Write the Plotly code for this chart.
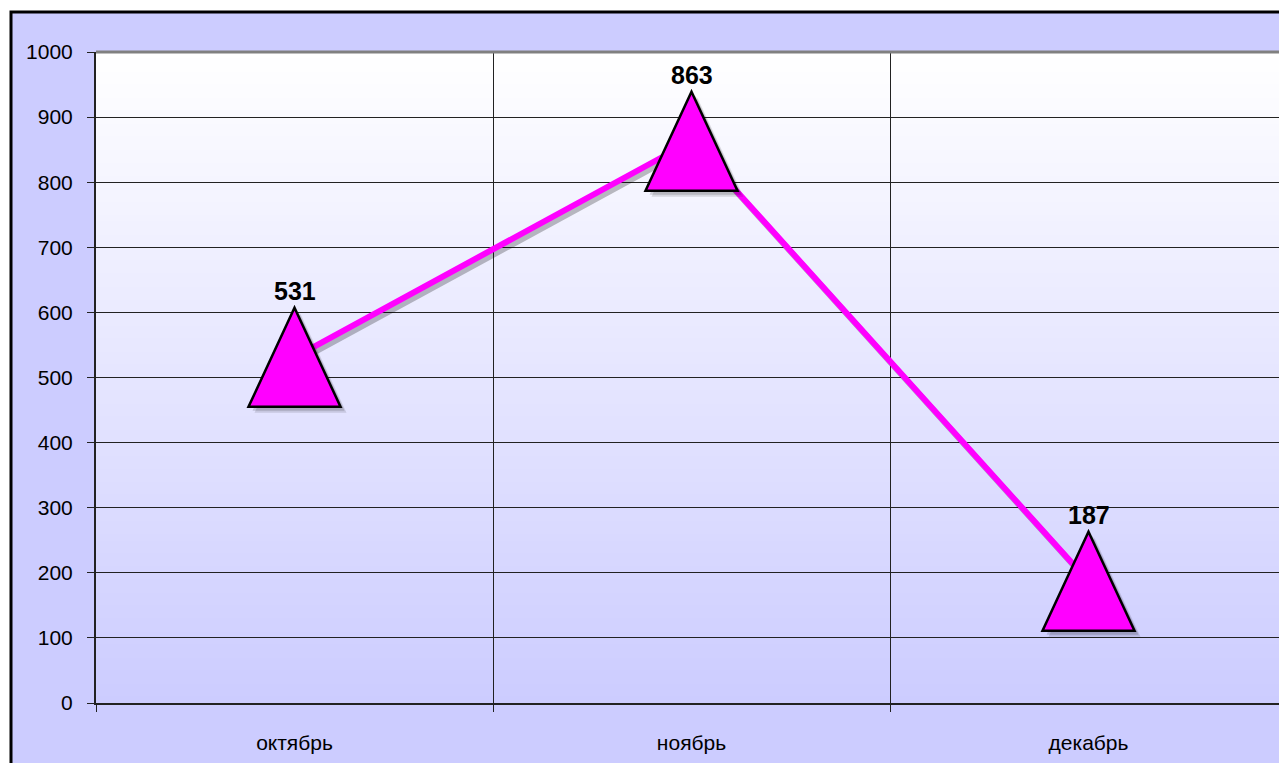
import plotly.graph_objects as go

months = ["октябрь", "ноябрь", "декабрь"]
values = [531, 863, 187]
y_ticks = list(range(0, 1001, 100))

W, H = 1287, 763
# the page has an 8px body margin, so the figure is shifted by 8px
ML, MR, MT, MB = 88, 8, 44, 68
plot_w = W - ML - MR
plot_h = H - MT - MB
y_max = 1000

font_main = "Arial, Liberation Sans, sans-serif"
lavender = "#CCCCFF"
magenta = "#FF00FF"

fig = go.Figure()

# invisible trace to set up the category axis
fig.add_trace(go.Scatter(x=months, y=values, mode="lines", line=dict(width=0),
                         opacity=0, hoverinfo="skip", showlegend=False))

# line shadow, drawn on a slightly shifted overlay axis pair
sx, sy = 3, 4  # pixel offset of the shadow
dx = sx / (plot_w / len(months))
dy = sy / (plot_h / y_max)
idx = list(range(len(months)))
fig.add_trace(go.Scatter(x=idx, y=values, mode="lines", xaxis="x2", yaxis="y2",
                         line=dict(color="rgba(0,0,0,0.25)", width=6),
                         hoverinfo="skip", showlegend=False))
# the magenta line
fig.add_trace(go.Scatter(x=idx, y=values, mode="lines", xaxis="x3", yaxis="y3",
                         line=dict(color=magenta, width=6), showlegend=False))

shapes = []

# outer frame
shapes.append(dict(type="rect", xref="paper", yref="paper", layer="below",
                   x0=-(ML - 3) / plot_w, x1=1.2, y0=-0.3, y1=1 + (MT - 4) / plot_h,
                   fillcolor=lavender, line=dict(color="black", width=3)))

# vertical gradient in the plot area (white at top -> lavender at bottom)
n_bands = 100
c0 = (255, 255, 255)
c1 = (204, 204, 255)
for k in range(n_bands):
    t = (k + 0.5) / n_bands
    col = tuple(round(c0[j] + (c1[j] - c0[j]) * t) for j in range(3))
    shapes.append(dict(type="rect", xref="x domain", yref="y", layer="below",
                       x0=0, x1=1, y0=0, y1=y_max * (1 - k / n_bands),
                       fillcolor="rgb(%d,%d,%d)" % col, line=dict(width=0)))

# grey top border of the plot area
shapes.append(dict(type="line", xref="paper", yref="paper", layer="above",
                   x0=0, x1=1, y0=1, y1=1,
                   line=dict(color="#808080", width=3)))

# triangle markers (Excel-style) drawn in pixels around each data point
half_w, half_h = 46, 49.5
tri = "M %g %g L %g %g L 0 %g Z" % (-half_w, -half_h, half_w, -half_h, half_h)
tri_shadow = []
for ox, oy, a in [(6, -6, 0.12), (4, -4, 0.15)]:
    tri_shadow.append(("M %g %g L %g %g L %g %g Z" % (
        -half_w + ox, -half_h + oy, half_w + ox, -half_h + oy, ox, half_h + oy), a))
for i, v in enumerate(values):
    for path, a in tri_shadow:
        shapes.append(dict(type="path", xref="x", yref="y", xsizemode="pixel",
                           ysizemode="pixel", xanchor=i, yanchor=v, path=path,
                           fillcolor="rgba(0,0,0,%g)" % a, line=dict(width=0),
                           layer="above"))
    shapes.append(dict(type="path", xref="x", yref="y", xsizemode="pixel",
                       ysizemode="pixel", xanchor=i, yanchor=v, path=tri,
                       fillcolor=magenta, line=dict(color="black", width=2.5),
                       layer="above"))

annotations = []
for m, v in zip(months, values):
    annotations.append(dict(x=m, y=v, xref="x", yref="y", text=str(v), showarrow=False,
                            yshift=66, yanchor="middle",
                            font=dict(family=font_main, size=25, color="black",
                                      weight="bold")))

fig.update_layout(
    width=W, height=H,
    margin=dict(l=ML, r=MR, t=MT, b=MB),
    paper_bgcolor="white",
    plot_bgcolor="rgba(0,0,0,0)",
    font=dict(family=font_main, size=21, color="black"),
    showlegend=False,
    shapes=shapes,
    annotations=annotations,
    xaxis=dict(type="category", categoryarray=months, range=[-0.5, len(months) - 0.5],
               tickson="boundaries", ticks="outside", ticklen=7, tickcolor="#222222",
               showgrid=True, gridcolor="#222222", gridwidth=1.2,
               showline=True, linecolor="#222222", linewidth=2,
               ticklabelstandoff=20, tickfont=dict(size=21), fixedrange=True),
    yaxis=dict(range=[0, y_max], tickvals=y_ticks, ticks="outside", ticklen=7,
               tickcolor="#222222", showgrid=True, gridcolor="#222222", gridwidth=1.2,
               showline=True, linecolor="#222222", linewidth=2, zeroline=False,
               ticklabelstandoff=10, tickfont=dict(size=21), fixedrange=True),
    xaxis2=dict(overlaying="x", visible=False, range=[-0.5 - dx, len(months) - 0.5 - dx]),
    yaxis2=dict(overlaying="y", visible=False, range=[dy, y_max + dy]),
    xaxis3=dict(overlaying="x", visible=False, range=[-0.5, len(months) - 0.5]),
    yaxis3=dict(overlaying="y", visible=False, range=[0, y_max]),
)

fig.write_html("out.html")
